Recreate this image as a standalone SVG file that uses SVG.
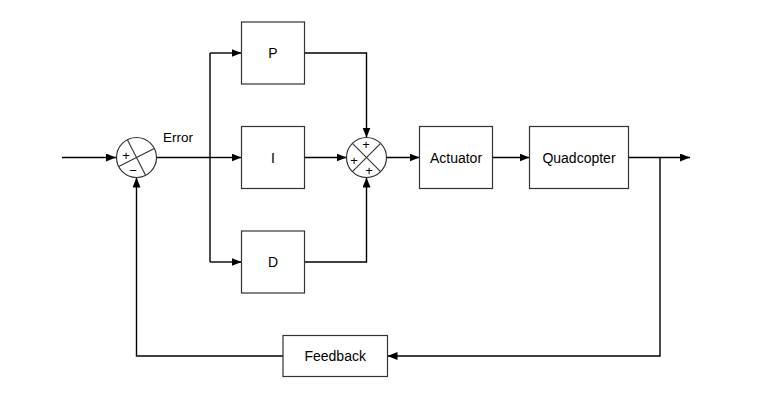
<svg xmlns="http://www.w3.org/2000/svg" width="779" height="400" viewBox="0 0 779 400">
<defs>
<marker id="arr" viewBox="0 0 10 8" refX="10" refY="4" markerWidth="10" markerHeight="8" markerUnits="userSpaceOnUse" orient="auto">
<path d="M0,0 L10,4 L0,8 z" fill="#000"/>
</marker>
<style>
.box{fill:#fff;stroke:#333;stroke-width:1.2}
.ln{fill:none;stroke:#000;stroke-width:1.4}
.arr{marker-end:url(#arr)}
.lbl{font-family:"Liberation Sans",Arial,sans-serif;font-size:14px;fill:#000;text-anchor:middle;dominant-baseline:central}
.sgn{font-family:"Liberation Sans",Arial,sans-serif;font-size:13px;fill:#000;text-anchor:middle;dominant-baseline:central}
.sum{fill:#fff;stroke:#333;stroke-width:1.2}
.x{stroke:#333;stroke-width:1.1}
</style>
</defs>
<rect width="779" height="400" fill="#fff"/>
<g id="connectors">
<line class="ln arr" x1="62" y1="157.5" x2="116" y2="157.5"/>
<line class="ln" x1="156" y1="157.5" x2="210" y2="157.5"/>
<line class="ln arr" x1="210" y1="157.5" x2="241.5" y2="157.5"/>
<line class="ln" x1="210" y1="53" x2="210" y2="262"/>
<line class="ln arr" x1="210" y1="53" x2="241.5" y2="53"/>
<line class="ln arr" x1="210" y1="262" x2="241.5" y2="262"/>
<polyline class="ln arr" points="304.5,53 366.5,53 366.5,137.5"/>
<line class="ln arr" x1="304.5" y1="157.5" x2="346.5" y2="157.5"/>
<polyline class="ln arr" points="304.5,262 366.5,262 366.5,177.5"/>
<line class="ln arr" x1="386.5" y1="157.5" x2="419.5" y2="157.5"/>
<line class="ln arr" x1="492.5" y1="157.5" x2="529.5" y2="157.5"/>
<line class="ln arr" x1="628.5" y1="157.5" x2="690" y2="157.5"/>
<polyline class="ln arr" points="660,157.5 660,356 387.5,356"/>
<polyline class="ln arr" points="283,356 136.5,356 136.5,177.5"/>
</g>
<g id="sum1">
<circle class="sum" cx="136.5" cy="157.5" r="20"/>
<line class="x" x1="127.4" y1="139.7" x2="145.6" y2="175.3"/>
<line class="x" x1="154.3" y1="148.4" x2="118.7" y2="166.6"/>
<text class="sgn" x="126" y="155">+</text>
<text class="sgn" x="133" y="170">−</text>
</g>
<text id="error" x="163" y="142" font-family="Liberation Sans, Arial, sans-serif" font-size="13.5" fill="#000">Error</text>
<g id="P"><rect class="box" x="241.5" y="22" width="63" height="62"/><text class="lbl" x="273" y="53">P</text></g>
<g id="I"><rect class="box" x="241.5" y="126.5" width="63" height="62"/><text class="lbl" x="273" y="157.5">I</text></g>
<g id="D"><rect class="box" x="241.5" y="231" width="63" height="62"/><text class="lbl" x="273" y="262">D</text></g>
<g id="sum2">
<circle class="sum" cx="366.5" cy="157.5" r="20"/>
<line class="x" x1="352.4" y1="143.4" x2="380.6" y2="171.6"/>
<line class="x" x1="380.6" y1="143.4" x2="352.4" y2="171.6"/>
<text class="sgn" x="366" y="144">+</text>
<text class="sgn" x="354" y="160.5">+</text>
<text class="sgn" x="369" y="170">+</text>
</g>
<g id="actuator"><rect class="box" x="419.5" y="126.5" width="73" height="62"/><text class="lbl" x="456" y="157.5">Actuator</text></g>
<g id="quadcopter"><rect class="box" x="529.5" y="126.5" width="99" height="62"/><text class="lbl" x="579" y="157.5">Quadcopter</text></g>
<g id="feedback"><rect class="box" x="283" y="335.5" width="104.5" height="41"/><text class="lbl" x="335.2" y="356">Feedback</text></g>
</svg>
